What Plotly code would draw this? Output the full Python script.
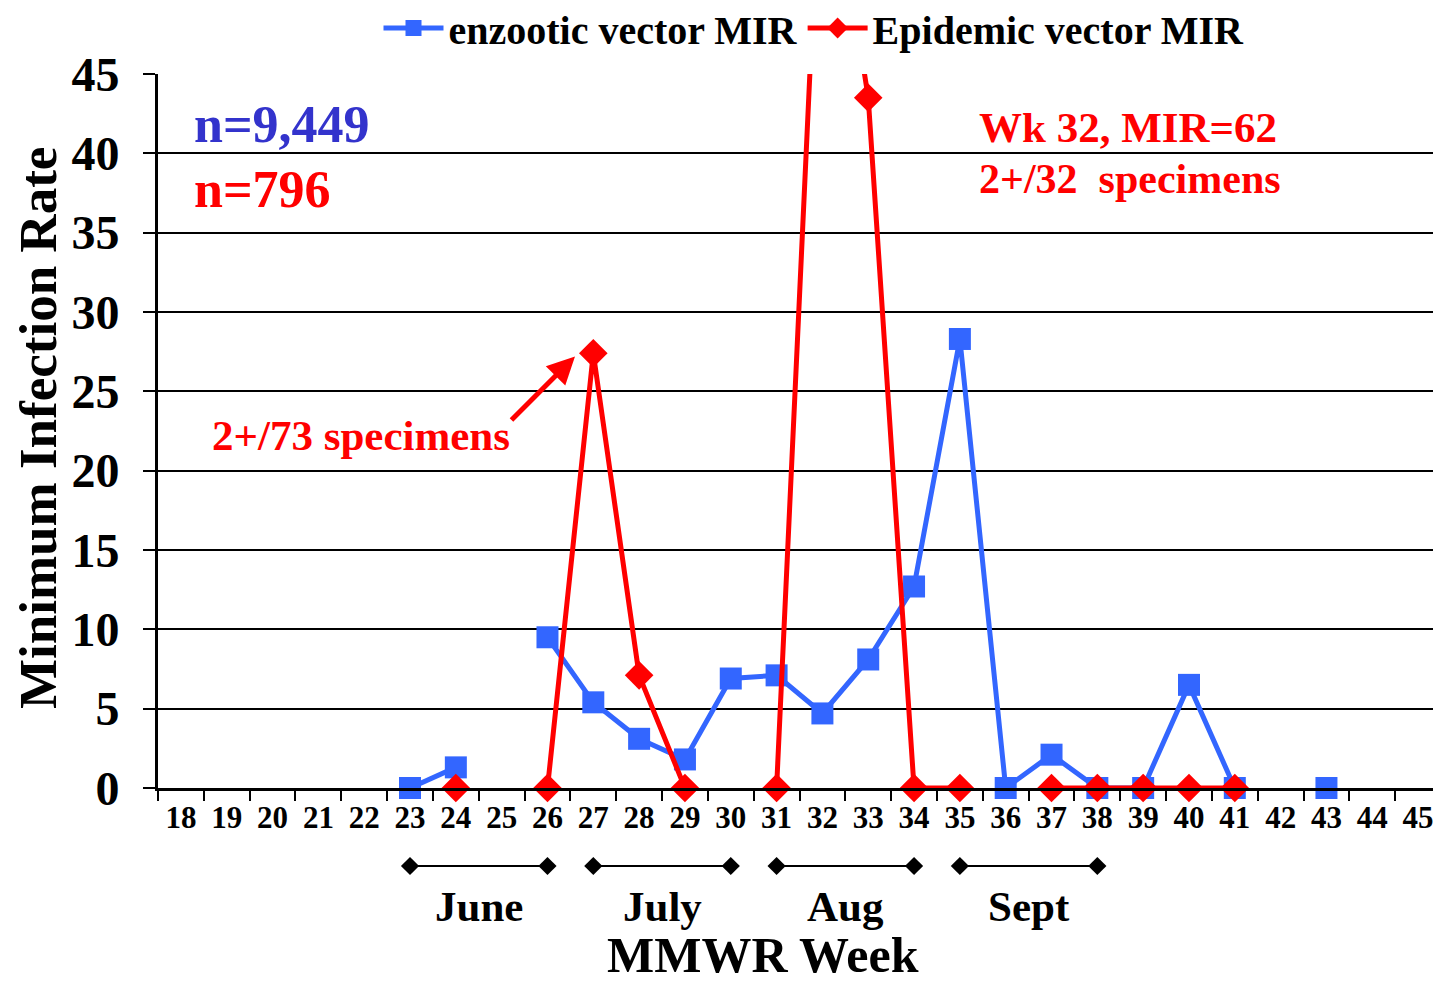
import plotly.graph_objects as go

weeks = [str(w) for w in range(18, 46)]

# enzootic vector MIR by week (None = no data)
enzootic = {23: 0, 24: 1.3, 26: 9.5, 27: 5.4, 28: 3.1, 29: 1.8, 30: 6.9, 31: 7.1,
            32: 4.7, 33: 8.1, 34: 12.7, 35: 28.3, 36: 0, 37: 2.1, 38: 0, 39: 0,
            40: 6.5, 41: 0, 43: 0}
# Epidemic vector MIR by week
epidemic = {24: 0, 26: 0, 27: 27.4, 28: 7.1, 29: 0, 31: 0, 32: 62, 33: 43.5,
            34: 0, 35: 0, 37: 0, 38: 0, 39: 0, 40: 0, 41: 0}

enz_vals = [enzootic.get(int(w)) for w in weeks]
epi_vals = [epidemic.get(int(w)) for w in weeks]

months = ["June", "July", "Aug", "Sept"]
month_start = ["23", "27", "31", "35"]
month_end = ["26", "30", "34", "38"]

FONT = "Liberation Serif"
BLUE = "#3366FF"
RED = "#FF0000"

W, H = 1433, 980  # page body has an 8px margin


def py(pix):  # page pixel row -> paper y
    return (988 - pix) / H


def px(pix):  # page pixel column -> paper x
    return (pix - 158) / 1283


fig = go.Figure()
fig.add_trace(go.Scatter(
    x=weeks, y=enz_vals, name="enzootic vector MIR", mode="lines+markers",
    line=dict(color=BLUE, width=5), marker=dict(symbol="square", size=22, color=BLUE),
    connectgaps=False, cliponaxis=False))
fig.add_trace(go.Scatter(
    x=weeks, y=epi_vals, name="Epidemic vector MIR", mode="lines+markers",
    line=dict(color=RED, width=5), marker=dict(symbol="diamond", size=22, color=RED),
    connectgaps=False, cliponaxis=False))

# month brackets on a hidden subplot sharing the week scale
bx, by = [], []
for s, e in zip(month_start, month_end):
    bx += [s, e, None]
    by += [0.8, 0.8, None]
fig.add_trace(go.Scatter(
    x=bx, y=by, xaxis="x2", yaxis="y2", mode="lines+markers", showlegend=False,
    line=dict(color="black", width=2), marker=dict(symbol="diamond", size=14, color="black"),
    cliponaxis=False, hoverinfo="skip"))

annotations = []
for i, m in enumerate(months):
    mid = (weeks.index(month_start[i]) + weeks.index(month_end[i])) / 2
    annotations.append(dict(x=mid, y=0.3, xref="x2", yref="y2", text=m, showarrow=False,
                            xanchor="center", yanchor="middle",
                            font=dict(family=FONT, size=43, color="black", weight="bold")))

annotations += [
    dict(x=0.24, y=41.8, xref="x", yref="y", text="n=9,449", xanchor="left", yanchor="middle",
         showarrow=False, font=dict(family=FONT, size=52, color="#3333CC", weight="bold")),
    dict(x=0.24, y=37.7, xref="x", yref="y", text="n=796", xanchor="left", yanchor="middle",
         showarrow=False, font=dict(family=FONT, size=52, color=RED, weight="bold")),
    dict(x=17.38, y=41.65, xref="x", yref="y", text="Wk 32, MIR=62", xanchor="left", yanchor="middle",
         showarrow=False, font=dict(family=FONT, size=43, color=RED, weight="bold")),
    dict(x=17.38, y=38.4, xref="x", yref="y", text="2+/32  specimens", xanchor="left", yanchor="middle",
         showarrow=False, font=dict(family=FONT, size=42, color=RED, weight="bold")),
    dict(x=0.63, y=22.2, xref="x", yref="y", text="2+/73 specimens", xanchor="left", yanchor="middle",
         showarrow=False, font=dict(family=FONT, size=43, color=RED, weight="bold")),
    dict(x=8.6, y=27.2, xref="x", yref="y", text="", showarrow=True, ax=-65, ay=65,
         arrowhead=2, arrowsize=1.1, arrowwidth=5, arrowcolor=RED),
    dict(x=px(38), y=py(428), xref="paper", yref="paper", text="Minimum Infection Rate",
         textangle=-90, showarrow=False, xanchor="center", yanchor="middle",
         font=dict(family=FONT, size=53, color="black", weight="bold")),
    dict(x=px(763), y=py(955), xref="paper", yref="paper", text="MMWR Week", showarrow=False,
         xanchor="center", yanchor="middle",
         font=dict(family=FONT, size=50, color="black", weight="bold")),
]

fig.update_layout(
    width=W, height=H,
    margin=dict(l=150, r=0, t=0, b=0, autoexpand=False),
    paper_bgcolor="white", plot_bgcolor="white",
    showlegend=True,
    legend=dict(orientation="h", x=px(814), y=py(28), xanchor="center", yanchor="middle",
                font=dict(family=FONT, size=40, color="black", weight="bold"),
                itemwidth=60, bgcolor="rgba(0,0,0,0)"),
    xaxis=dict(type="category", categoryorder="array", categoryarray=weeks,
               range=[-0.5, 27.5], domain=[0, 1], anchor="y",
               tickson="boundaries", ticks="outside", ticklen=10, tickwidth=2, tickcolor="black",
               showline=True, linecolor="black", linewidth=3, showgrid=False,
               tickfont=dict(family=FONT, size=31, color="black", weight="bold"),
               automargin=False),
    yaxis=dict(range=[0, 45], domain=[py(788), py(74)], anchor="x", dtick=5,
               ticks="outside", ticklen=12, tickwidth=2, tickcolor="black",
               showline=True, linecolor="black", linewidth=3, ticklabelstandoff=14,
               showgrid=True, gridcolor="black", gridwidth=2, zeroline=False,
               tickfont=dict(family=FONT, size=48, color="black", weight="bold"),
               automargin=False),
    xaxis2=dict(type="category", categoryorder="array", categoryarray=weeks,
                matches="x", domain=[0, 1], anchor="y2", visible=False),
    yaxis2=dict(range=[0, 1], domain=[py(930), py(850)], anchor="x2", visible=False),
    annotations=annotations,
)

fig.write_html("out.html")
